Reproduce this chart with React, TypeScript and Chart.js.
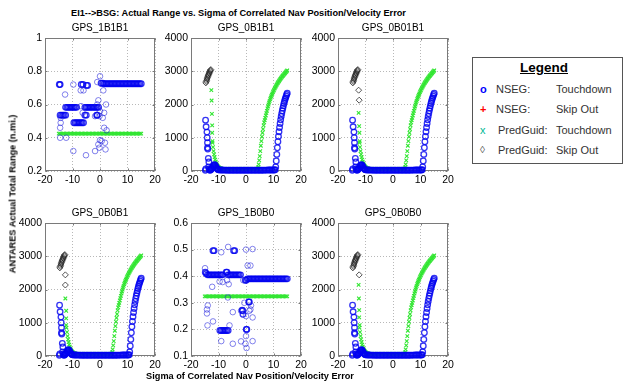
import { useEffect, useRef } from 'react';
import { Chart, registerables } from 'chart.js';

Chart.register(...registerables);

const FONT = '"Liberation Sans", Arial, Helvetica, sans-serif';

// ---------- tick labels ----------
const xTickValues = [-20, -10, 0, 10, 20];
const rangeTickValues = [0, 1000, 2000, 3000, 4000];
const tick1B1B1 = [0.2, 0.4, 0.6, 0.8, 1];
const tick1B0B0 = [0.1, 0.2, 0.3, 0.4, 0.5, 0.6];

const subplotTitles = ['GPS_1B1B1', 'GPS_0B1B1', 'GPS_0B01B1', 'GPS_0B0B1', 'GPS_1B0B0', 'GPS_0B0B0'];

// ---------- sigma grid of the flat PredGuid series ----------
const sigmaGrid = [-15, -14.5, -14, -13.5, -13, -12.5, -12, -11.5, -11, -10.5, -10, -9.5, -9, -8.5, -8, -7.5, -7, -6.5, -6, -5.5, -5, -4.5, -4, -3.5, -3, -2.5, -2, -1.5, -1, -0.5, 0, 0.5, 1, 1.5, 2, 2.5, 3, 3.5, 4, 4.5, 5, 5.5, 6, 6.5, 7, 7.5, 8, 8.5, 9, 9.5, 10, 10.5, 11, 11.5, 12, 12.5, 13, 13.5, 14, 14.5, 15];

// ---------- GPS_1B1B1 ----------
const p1GuidY = [0.425, 0.425, 0.425, 0.425, 0.425, 0.425, 0.425, 0.425, 0.425, 0.425, 0.425, 0.425, 0.425, 0.425, 0.425, 0.425, 0.425, 0.425, 0.425, 0.425, 0.425, 0.425, 0.425, 0.425, 0.425, 0.425, 0.425, 0.425, 0.425, 0.425, 0.425, 0.425, 0.425, 0.425, 0.425, 0.425, 0.425, 0.425, 0.425, 0.425, 0.425, 0.425, 0.425, 0.425, 0.425, 0.425, 0.425, 0.425, 0.425, 0.425, 0.425, 0.425, 0.425, 0.425, 0.425, 0.425, 0.425, 0.425, 0.425, 0.425, 0.425];
const p1BandX = [1.5, 2, 2.5, 3, 3.5, 4, 4.5, 5, 5.5, 6, 6.5, 7, 7.5, 8, 8.5, 9, 9.5, 10, 10.5, 11, 11.5, 12, 12.5, 13, 13.5, 14, 14.5, 15,
  -12.5, -12, -11.5, -11, -10.5, -10, -9.5, -9, -8.5,
  -5.5, -5, -4.5, -4, -3.5, -3, -2.5, -2, -1.5, -1, -0.5,
  -14.5, -14, -13.5, -13, -12.5,
  -9.5, -9, -8.5, -8, -7.5, -7, -6.5, -6,
  -14.8, -14.5, -6.8, -6.2, -4.9, -4.5, -5.5, -5.0, -1.2, -1.0, 0.4, 1.0];
const p1BandY = [0.725, 0.725, 0.725, 0.725, 0.725, 0.725, 0.725, 0.725, 0.725, 0.725, 0.725, 0.725, 0.725, 0.725, 0.725, 0.725, 0.725, 0.725, 0.725, 0.725, 0.725, 0.725, 0.725, 0.725, 0.725, 0.725, 0.725, 0.725,
  0.583, 0.583, 0.583, 0.583, 0.583, 0.583, 0.583, 0.583, 0.583,
  0.583, 0.583, 0.583, 0.583, 0.583, 0.583, 0.583, 0.583, 0.583, 0.583, 0.583,
  0.536, 0.536, 0.536, 0.536, 0.536,
  0.49, 0.49, 0.49, 0.49, 0.49, 0.49, 0.49, 0.49,
  0.72, 0.72, 0.72, 0.72, 0.715, 0.715, 0.536, 0.536, 0.536, 0.536, 0.728, 0.728];
const p1SpotX = [-9.7, 0, -1, -12.7, -7.0, -6.0, 1.2, -0.6, -1.0, 2.2, -6.9, -6.3, 0, 1.5, -14.3, -1.8, -0.2, 1.0, -14.3, -14.5,
  1.5, 2.4, -14.5, -12.3, 0, 0.6, -0.6, 1.8, -0.2, 2.0, -9.7, -1.8, -5.1];
const p1SpotY = [0.72, 0.77, 0.735, 0.66, 0.685, 0.685, 0.685, 0.625, 0.6, 0.6, 0.59, 0.55, 0.56, 0.55, 0.52, 0.53, 0.53, 0.52, 0.49, 0.46,
  0.46, 0.445, 0.4, 0.4, 0.385, 0.38, 0.36, 0.37, 0.34, 0.33, 0.32, 0.32, 0.295];

// ---------- GPS_1B0B0 ----------
const p5GuidY = [0.324, 0.324, 0.324, 0.324, 0.324, 0.324, 0.324, 0.324, 0.324, 0.324, 0.324, 0.324, 0.324, 0.324, 0.324, 0.324, 0.324, 0.324, 0.324, 0.324, 0.324, 0.324, 0.324, 0.324, 0.324, 0.324, 0.324, 0.324, 0.324, 0.324, 0.324, 0.324, 0.324, 0.324, 0.324, 0.324, 0.324, 0.324, 0.324, 0.324, 0.324, 0.324, 0.324, 0.324, 0.324, 0.324, 0.324, 0.324, 0.324, 0.324, 0.324, 0.324, 0.324, 0.324, 0.324, 0.324, 0.324, 0.324, 0.324, 0.324, 0.324];
const p5BandX = [0.5, 1, 1.5, 2, 2.5, 3, 3.5, 4, 4.5, 5, 5.5, 6, 6.5, 7, 7.5, 8, 8.5, 9, 9.5, 10, 10.5, 11, 11.5, 12, 12.5, 13, 13.5, 14, 14.5, 15,
  -14, -13.5, -13, -12.5, -12, -11.5, -11, -10.5, -10, -9.5, -9, -8.5,
  -6.5, -6, -5.5, -5, -4.5, -4, -3.5, -3, -2.5, -2,
  -9.5, -9, -8.5, -8, -7.5, -7, -6.5,
  -14.8, -14.5, -12.0, -11.6, -4.5, -4.1, -7.2, -6.9, -0.3, 0.1, 1.0, 1.2, -1.4, -1.2, -1.1, 0.1, 0.3];
const p5BandY = [0.39, 0.39, 0.39, 0.39, 0.39, 0.39, 0.39, 0.39, 0.39, 0.39, 0.39, 0.39, 0.39, 0.39, 0.39, 0.39, 0.39, 0.39, 0.39, 0.39, 0.39, 0.39, 0.39, 0.39, 0.39, 0.39, 0.39, 0.39, 0.39, 0.39,
  0.405, 0.405, 0.405, 0.405, 0.405, 0.405, 0.405, 0.405, 0.405, 0.405, 0.405, 0.405,
  0.405, 0.405, 0.405, 0.405, 0.405, 0.405, 0.405, 0.405, 0.405, 0.405,
  0.196, 0.196, 0.196, 0.196, 0.196, 0.196, 0.196,
  0.415, 0.41, 0.496, 0.496, 0.496, 0.496, 0.415, 0.415, 0.385, 0.385, 0.303, 0.303, 0.272, 0.27, 0.257, 0.2, 0.2];
const p5SpotX = [-14.9, -6.5, -9, 0, 2.4, 0.6, 1.6, -9.6, -12.3, -6.9, -6.3, -1, -6.6, -13.9, -14.2, -14.2, -4.8, -1.8, 0, 1.2, 1.8,
  2.4, -0.6, 1.6, -14, -12, -6, 0, -9, -4.8, -1.8, -0.2, 0.2, 2.4, -8.5];
const p5SpotY = [0.43, 0.51, 0.49, 0.5, 0.502, 0.44, 0.44, 0.38, 0.36, 0.385, 0.37, 0.385, 0.32, 0.29, 0.275, 0.26, 0.265, 0.27, 0.25, 0.27, 0.29,
  0.245, 0.3, 0.275, 0.215, 0.23, 0.215, 0.175, 0.156, 0.146, 0.155, 0.146, 0.13, 0.156, 0.378];

// ---------- shared shape of the 0B.. panels ----------
const riseNsegX = [-14.7, -14.5, -14.2, -14.1, -14.0, -14.0, -13.9, -13.7, -13.5, -14.6, -14.8,
  -13.6, -13.4, -13.2, -13.0, -12.8, -12.6, -12.4, -12.2, -12.0, -11.8, -11.6, -11.4, -11.2, -11.0, -10.8, -10.6, -10.4, -10.2, -10.0,
  -9.5, -9, -8.5, -8, -7.5, -7, -6.5, -6, -5.5, -5, -4.5, -4, -3.5, -3, -2.5, -2, -1.5, -1, -0.5, 0, 0.5, 1, 1.5, 2, 2.5, 3, 3.5, 4, 4.5, 5, 5.5, 6, 6.5, 7, 7.5, 8, 8.5, 9, 9.5, 10, 10.4,
  10.6, 10.8, 11.0, 11.2, 11.4, 11.6, 11.8, 12.0, 12.2, 12.4, 12.6, 12.8, 13.0, 13.2, 13.4, 13.6, 13.8, 14.0, 14.2, 14.4, 14.6, 14.8, 15.0];
const riseNsegY = [1530, 1330, 1170, 1000, 850, 700, 660, 380, 270, 60, 20,
  120, 60, 30, 20, 40, 60, 80, 100, 130, 160, 180, 190, 170, 140, 110, 80, 60, 45, 35,
  30, 28, 28, 27, 27, 26, 26, 26, 25, 25, 25, 25, 25, 25, 25, 25, 25, 25, 25, 25, 25, 25, 25, 25, 25, 25, 25, 25, 25, 25, 26, 26, 26, 27, 27, 28, 28, 29, 30, 30, 32,
  40, 120, 300, 500, 700, 880, 1040, 1180, 1310, 1430, 1540, 1640, 1730, 1810, 1890, 1960, 2030, 2090, 2150, 2200, 2250, 2300, 2340];
const riseGuidX = [-12.2, -12.0, -11.8, -11.6, -11.4, -11.2, -11.0, -10.8, -10.6, -10.4, -10.2, -10.0, -9.8, -9.6, -9.4, -9.2, -9.0,
  -8.5, -8, -7.5, -7, -6.5, -6, -5.5, -5, -4.5, -4, -3.5, -3, -2.5, -2, -1.5, -1, -0.5, 0, 0.5, 1, 1.5, 2, 2.5, 3, 3.5, 4,
  4.2, 4.4, 4.6, 4.8, 5.0, 5.2, 5.4, 5.6, 5.8, 6.0, 6.2, 6.4, 6.6, 6.8, 7.0, 7.2, 7.4, 7.6, 7.8, 8.0, 8.2, 8.4, 8.6, 8.8, 9.0,
  9.2, 9.4, 9.6, 9.8, 10.0, 10.2, 10.4, 10.6, 10.8, 11.0, 11.2, 11.4, 11.6, 11.8, 12.0, 12.2, 12.4, 12.6, 12.8, 13.0,
  13.2, 13.4, 13.6, 13.8, 14.0, 14.2, 14.4, 14.6, 14.8, 15.0];
const riseGuidY = [850, 720, 600, 500, 420, 340, 280, 230, 190, 160, 135, 115, 100, 90, 80, 75, 70,
  66, 64, 62, 61, 60, 60, 60, 60, 60, 60, 60, 60, 60, 60, 60, 60, 60, 60, 60, 60, 60, 60, 60, 60, 60, 62,
  70, 110, 200, 320, 450, 600, 760, 900, 1030, 1150, 1260, 1370, 1460, 1530, 1600, 1670, 1740, 1810, 1880, 1940, 2000, 2060, 2110, 2160, 2210,
  2250, 2290, 2330, 2370, 2410, 2440, 2480, 2510, 2540, 2570, 2600, 2630, 2655, 2680, 2705, 2730, 2755, 2780, 2800, 2825,
  2845, 2865, 2885, 2905, 2925, 2945, 2965, 2985, 3005, 3025];
const riseSkipX = [-14.6, -14.45, -14.3, -14.15, -14.0, -13.85, -13.7, -13.55, -13.4, -13.25, -13.1, -12.95, -12.8];
const riseSkipY = [2650, 2690, 2730, 2770, 2810, 2850, 2880, 2910, 2940, 2970, 3000, 3030, 3050];

// ---------- per-panel scattered points ----------
const p2GuidScatX = [-12.6, -12.5, -12.4, -12.3, -12.3, -12.2];
const p2GuidScatY = [2430, 2120, 1720, 1370, 1150, 900];
const p3GuidScatX = [-12.5, -12.3, -12.2, -12.1];
const p3GuidScatY = [1750, 1350, 1150, 900];
const p4GuidScatX = [-12.6, -12.3, -12.3, -12.3];
const p4GuidScatY = [1730, 1360, 1130, 930];
const p6GuidScatX = [-12.5, -12.4, -12.3, -12.3, -12.1];
const p6GuidScatY = [2140, 1730, 1380, 1160, 930];
const p3SkipExtraX = [-12.5, -12.3];
const p3SkipExtraY = [2430, 2130];
const p4SkipExtraX = [-12.6, -12.6];
const p4SkipExtraY = [2440, 2135];
const p6SkipExtraX = [-12.3];
const p6SkipExtraY = [2440];
const noX: number[] = [];
const noY: number[] = [];

// ---------- layout ----------
const PW = 110, PH = 133, YW = 40, XH = 22, PT = 8, PR = 12;
const colLeft = [45, 191, 338];
const rowTop = [38, 223];

type Series = { x: number[]; y: number[] };
type PanelSpec = {
  title: string; left: number; top: number; yMin: number; yMax: number; yTicks: number[];
  nsegBand: Series; nsegSpot: Series; nsegSkip: Series; guidTD: Series; guidSkip: Series;
};

const join = (a: number[], b: number[]) => a.concat(b);

const panels: PanelSpec[] = [
  { title: subplotTitles[0], left: colLeft[0], top: rowTop[0], yMin: 0.2, yMax: 1, yTicks: tick1B1B1,
    nsegBand: { x: p1BandX, y: p1BandY }, nsegSpot: { x: p1SpotX, y: p1SpotY }, nsegSkip: { x: noX, y: noY },
    guidTD: { x: sigmaGrid, y: p1GuidY }, guidSkip: { x: noX, y: noY } },
  { title: subplotTitles[1], left: colLeft[1], top: rowTop[0], yMin: 0, yMax: 4000, yTicks: rangeTickValues,
    nsegBand: { x: riseNsegX, y: riseNsegY }, nsegSpot: { x: noX, y: noY }, nsegSkip: { x: noX, y: noY },
    guidTD: { x: join(riseGuidX, p2GuidScatX), y: join(riseGuidY, p2GuidScatY) }, guidSkip: { x: riseSkipX, y: riseSkipY } },
  { title: subplotTitles[2], left: colLeft[2], top: rowTop[0], yMin: 0, yMax: 4000, yTicks: rangeTickValues,
    nsegBand: { x: riseNsegX, y: riseNsegY }, nsegSpot: { x: noX, y: noY }, nsegSkip: { x: noX, y: noY },
    guidTD: { x: join(riseGuidX, p3GuidScatX), y: join(riseGuidY, p3GuidScatY) },
    guidSkip: { x: join(riseSkipX, p3SkipExtraX), y: join(riseSkipY, p3SkipExtraY) } },
  { title: subplotTitles[3], left: colLeft[0], top: rowTop[1], yMin: 0, yMax: 4000, yTicks: rangeTickValues,
    nsegBand: { x: riseNsegX, y: riseNsegY }, nsegSpot: { x: noX, y: noY }, nsegSkip: { x: noX, y: noY },
    guidTD: { x: join(riseGuidX, p4GuidScatX), y: join(riseGuidY, p4GuidScatY) },
    guidSkip: { x: join(riseSkipX, p4SkipExtraX), y: join(riseSkipY, p4SkipExtraY) } },
  { title: subplotTitles[4], left: colLeft[1], top: rowTop[1], yMin: 0.1, yMax: 0.6, yTicks: tick1B0B0,
    nsegBand: { x: p5BandX, y: p5BandY }, nsegSpot: { x: p5SpotX, y: p5SpotY }, nsegSkip: { x: noX, y: noY },
    guidTD: { x: sigmaGrid, y: p5GuidY }, guidSkip: { x: noX, y: noY } },
  { title: subplotTitles[5], left: colLeft[2], top: rowTop[1], yMin: 0, yMax: 4000, yTicks: rangeTickValues,
    nsegBand: { x: riseNsegX, y: riseNsegY }, nsegSpot: { x: noX, y: noY }, nsegSkip: { x: noX, y: noY },
    guidTD: { x: join(riseGuidX, p6GuidScatX), y: join(riseGuidY, p6GuidScatY) },
    guidSkip: { x: join(riseSkipX, p6SkipExtraX), y: join(riseSkipY, p6SkipExtraY) } },
];

const pts = (s: Series) => s.x.map((x, i) => ({ x, y: s.y[i] }));

const boxPlugin = {
  id: 'matlabBox',
  beforeDatasetsDraw(chart: any) {
    const { ctx, chartArea: a } = chart;
    ctx.save();
    ctx.strokeStyle = '#7a7a7a';
    ctx.lineWidth = 1;
    const l = Math.round(a.left) + 0.5, t = Math.round(a.top) + 0.5;
    const r = Math.round(a.right) - 0.5, b = Math.round(a.bottom) - 0.5;
    ctx.strokeRect(l, t, r - l, b - t);
    ctx.beginPath();
    const xs = chart.scales.x, ys = chart.scales.y;
    xs.ticks.forEach((tk: any) => {
      const px = Math.round(xs.getPixelForValue(tk.value)) + 0.5;
      ctx.moveTo(px, b); ctx.lineTo(px, b - 2);
      ctx.moveTo(px, t); ctx.lineTo(px, t + 2);
    });
    ys.ticks.forEach((tk: any) => {
      const py = Math.round(ys.getPixelForValue(tk.value)) + 0.5;
      ctx.moveTo(l, py); ctx.lineTo(l + 2, py);
      ctx.moveTo(r, py); ctx.lineTo(r - 2, py);
    });
    ctx.stroke();
    ctx.restore();
  },
};

function Panel({ spec }: { spec: PanelSpec }) {
  const ref = useRef<HTMLCanvasElement>(null);
  useEffect(() => {
    const tickFont = { size: 10.5, family: FONT };
    const chart = new Chart(ref.current as HTMLCanvasElement, {
      type: 'scatter',
      data: {
        datasets: [
          { label: 'NSEG: Touchdown', data: pts(spec.nsegSpot), pointStyle: 'circle', pointRadius: 2.8,
            pointBorderColor: 'rgba(30,30,220,0.55)', pointBackgroundColor: 'rgba(0,0,0,0)', pointBorderWidth: 1, clip: false } as any,
          { label: 'NSEG: Touchdown', data: pts(spec.nsegBand), pointStyle: 'circle', pointRadius: 2.8,
            pointBorderColor: 'rgba(0,0,240,0.8)', pointBackgroundColor: 'rgba(0,0,0,0)', pointBorderWidth: 1.3, clip: false } as any,
          { label: 'NSEG: Skip Out', data: pts(spec.nsegSkip), pointStyle: 'cross', pointRadius: 3,
            pointBorderColor: '#ff0000', pointBorderWidth: 1, clip: false } as any,
          { label: 'PredGuid: Touchdown', data: pts(spec.guidTD), pointStyle: 'crossRot', pointRadius: 2.5,
            pointBorderColor: 'rgb(50,230,50)', pointBackgroundColor: 'rgba(0,0,0,0)', pointBorderWidth: 1.1, clip: false } as any,
          { label: 'PredGuid: Skip Out', data: pts(spec.guidSkip), pointStyle: 'rectRot', pointRadius: 3,
            pointBorderColor: 'rgba(30,30,30,0.75)', pointBackgroundColor: 'rgba(0,0,0,0)', pointBorderWidth: 1, clip: false } as any,
        ],
      },
      options: {
        animation: false,
        responsive: false,
        devicePixelRatio: 1,
        events: [],
        layout: { padding: { top: PT, right: PR, left: 0, bottom: 0 } },
        plugins: { legend: { display: false }, tooltip: { enabled: false }, title: { display: false } },
        scales: {
          x: {
            type: 'linear', min: -20, max: 20,
            afterBuildTicks: (ax: any) => { ax.ticks = xTickValues.map((v) => ({ value: v })); },
            afterFit: (ax: any) => { ax.height = XH; ax.paddingLeft = 0; ax.paddingRight = 0; },
            ticks: { autoSkip: false, maxRotation: 0, padding: 3, color: '#000', font: tickFont,
              callback: (v: any) => String(v) },
            grid: { color: '#b8b8b8', drawTicks: false, lineWidth: 1 },
            border: { display: false, dash: [1, 2] },
          },
          y: {
            type: 'linear', min: spec.yMin, max: spec.yMax,
            afterBuildTicks: (ax: any) => { ax.ticks = spec.yTicks.map((v) => ({ value: v })); },
            afterFit: (ax: any) => { ax.width = YW; ax.paddingTop = 0; ax.paddingBottom = 0; },
            ticks: { autoSkip: false, padding: 3, color: '#000', font: tickFont,
              callback: (v: any) => String(Number(Number(v).toFixed(4))) },
            grid: { color: '#b8b8b8', drawTicks: false, lineWidth: 1 },
            border: { display: false, dash: [1, 2] },
          },
        },
      } as any,
      plugins: [boxPlugin],
    });
    return () => chart.destroy();
  }, [spec]);
  const W = YW + PW + PR, H = PT + PH + XH;
  return (
    <>
      <canvas ref={ref} width={W} height={H}
        style={{ position: 'absolute', left: spec.left - YW, top: spec.top - PT, width: W, height: H }} />
      <div style={{ position: 'absolute', left: spec.left, width: PW, top: spec.top - 16, textAlign: 'center',
        fontSize: 10, lineHeight: '12px', color: '#000', whiteSpace: 'nowrap' }}>{spec.title}</div>
    </>
  );
}

const legendRows = [
  { mark: 'o', color: '#0000ff', weight: 'bold', a: 'NSEG:', b: 'Touchdown' },
  { mark: '+', color: '#ff0000', weight: 'bold', a: 'NSEG:', b: 'Skip Out' },
  { mark: 'x', color: '#00b894', weight: 'normal', a: 'PredGuid:', b: 'Touchdown' },
  { mark: '\u25CA', color: '#555555', weight: 'normal', a: 'PredGuid:', b: 'Skip Out' },
];

const boldLabel = { fontSize: 9.2, lineHeight: '11px', fontWeight: 'bold' as const, whiteSpace: 'nowrap' as const, color: '#000' };

export default function App() {
  return (
    <div style={{ position: 'absolute', left: 0, top: 0, width: 624, height: 385, background: '#fff',
      fontFamily: FONT, overflow: 'hidden' }}>
      <div style={{ position: 'absolute', left: 238.5, top: 7.5, transform: 'translateX(-50%)', ...boldLabel }}>
        EI1--&gt;BSG: Actual Range vs. Sigma of Correlated Nav Position/Velocity Error
      </div>
      {panels.map((p) => <Panel key={p.title} spec={p} />)}
      <div style={{ position: 'absolute', left: 250, top: 371, transform: 'translateX(-50%)', ...boldLabel }}>
        Sigma of Correlated Nav Position/Velocity Error
      </div>
      <div style={{ position: 'absolute', left: 12.5, top: 194, transform: 'translate(-50%, -50%) rotate(-90deg)', ...boldLabel }}>
        ANTARES Actual Total Range (n.mi.)
      </div>
      <div style={{ position: 'absolute', left: 472, top: 57, width: 151, height: 107, boxSizing: 'border-box',
        border: '1px solid #555', background: '#fff', color: '#333' }}>
        <div style={{ position: 'absolute', left: 0, width: 142, top: 2, textAlign: 'center', fontSize: 13.5,
          lineHeight: '16px', fontWeight: 'bold', textDecoration: 'underline', color: '#000' }}>Legend</div>
        {legendRows.map((r, i) => (
          <div key={i} style={{ position: 'absolute', left: 0, top: 24 + i * 20.3, height: 14, width: 149, fontSize: 11, lineHeight: '14px' }}>
            <span style={{ position: 'absolute', left: 7, color: r.color, fontWeight: r.weight as any, fontSize: i === 3 ? 10 : 11 }}>{r.mark}</span>
            <span style={{ position: 'absolute', left: i < 2 ? 23 : 25 }}>{r.a}</span>
            <span style={{ position: 'absolute', left: 83 }}>{r.b}</span>
          </div>
        ))}
      </div>
    </div>
  );
}
